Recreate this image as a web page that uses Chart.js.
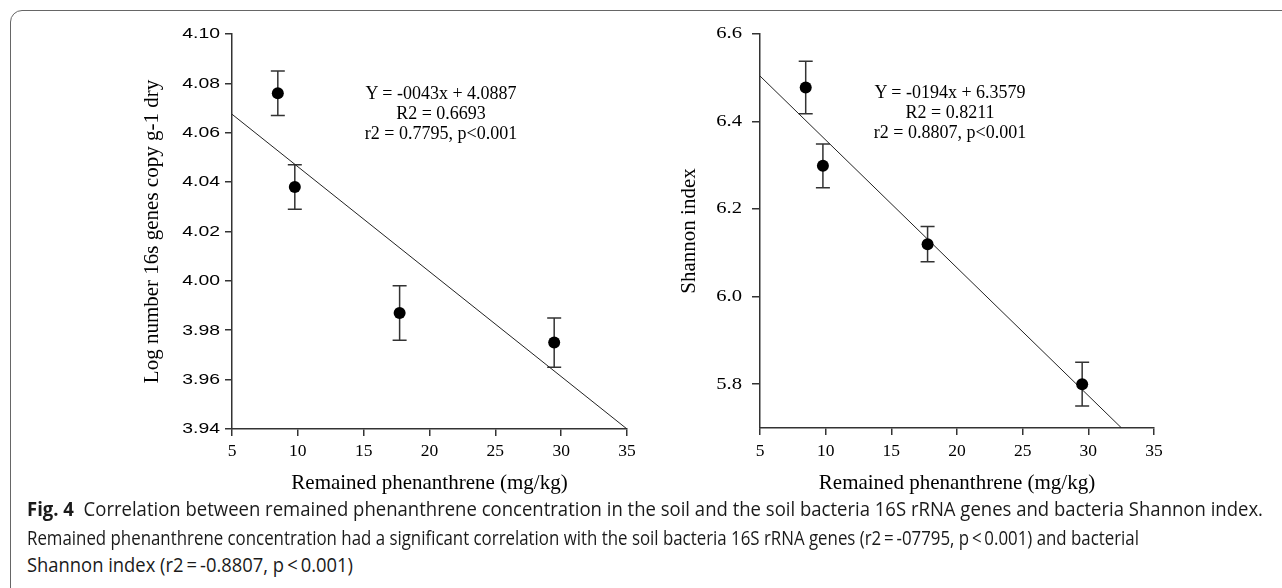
<!DOCTYPE html>
<html>
<head>
<meta charset="utf-8">
<script src="https://cdn.jsdelivr.net/npm/chart.js@4.4.1/dist/chart.umd.min.js"></script>
<style>
  body { margin: 0; background: #fff; }
  #page { position: relative; width: 1282px; height: 588px; overflow: hidden; background: #fff; }
  #frame { position: absolute; left: 10px; top: 10px; width: 1290px; height: 600px;
           border: 1.5px solid #666; border-radius: 12px; box-sizing: border-box; }
  .wrap { position: absolute; top: 0; }
  .eq { position: absolute; font-family: "Liberation Serif", "Times New Roman", serif;
        font-size: 18px; line-height: 20px; text-align: center; color: #000; white-space: nowrap;
        transform: translateX(-50%); }
  .cap { position: absolute; left: 27px; font-family: "Open Sans", sans-serif; font-size: 19.5px;
         line-height: 20px; color: #1a1a1a; white-space: nowrap; transform-origin: left center; }
  .cap b { font-weight: 700; }
</style>
</head>
<body>
<div id="page">
  <div id="frame"></div>
  <div class="wrap" style="left:0"><canvas id="left" width="640" height="500"></canvas></div>
  <div class="wrap" style="left:640px"><canvas id="right" width="642" height="500"></canvas></div>

  <div class="eq" style="left:441px; top:83px">Y = -0043x + 4.0887<br>R2 = 0.6693<br>r2 = 0.7795, p&lt;0.001</div>
  <div class="eq" style="left:950px; top:82px">Y = -0194x + 6.3579<br>R2 = 0.8211<br>r2 = 0.8807, p&lt;0.001</div>

  <div class="cap" style="top:499px"><b>Fig. 4</b>&nbsp; Correlation between remained phenanthrene concentration in the soil and the soil bacteria 16S rRNA genes and bacteria Shannon index.</div>
  <div class="cap" style="top:528px">Remained phenanthrene concentration had a significant correlation with the soil bacteria 16S rRNA genes (r2&#8201;=&#8201;-07795, p&#8201;&lt;&#8201;0.001) and bacterial</div>
  <div class="cap" style="top:555px">Shannon index (r2&#8201;=&#8201;-0.8807, p&#8201;&lt;&#8201;0.001)</div>
</div>

<script>
// x ticks shared by both panels
const xTicks = [5, 10, 15, 20, 25, 30, 35];

// left panel: log number of 16S genes
const gene16sX = [8.48, 9.77, 17.73, 29.47];
const gene16sY = [4.076, 4.038, 3.987, 3.975];
const gene16sErr = [0.009, 0.009, 0.011, 0.010];
const gene16sFitX = [5, 35];
const gene16sFitY = [4.0675, 3.940];
const gene16sTicks = [3.94, 3.96, 3.98, 4.00, 4.02, 4.04, 4.06, 4.08, 4.10];

// right panel: Shannon index
const shannonX = [8.48, 9.79, 17.76, 29.53];
const shannonY = [6.478, 6.299, 6.120, 5.800];
const shannonErr = [0.06, 0.05, 0.04, 0.05];
const shannonFitX = [5, 32.53];
const shannonFitY = [6.504, 5.70];
const shannonTicks = [5.8, 6.0, 6.2, 6.4, 6.6];

const axisColor = '#333';

// vertical error bars with caps, drawn under the points
const errorBars = {
    id: 'errorBars',
    beforeDatasetsDraw(chart, args, opts) {
        const { ctx, scales: { x, y } } = chart;
        const ds = chart.data.datasets[0];
        ctx.save();
        ctx.strokeStyle = axisColor;
        ctx.lineWidth = 1.5;
        ds.data.forEach((p, i) => {
            const px = x.getPixelForValue(p.x);
            const top = y.getPixelForValue(p.y + opts.err[i]);
            const bot = y.getPixelForValue(p.y - opts.err[i]);
            ctx.beginPath();
            ctx.moveTo(px, top); ctx.lineTo(px, bot);
            ctx.moveTo(px - 7, top); ctx.lineTo(px + 7, top);
            ctx.moveTo(px - 7, bot); ctx.lineTo(px + 7, bot);
            ctx.stroke();
        });
        ctx.restore();
    }
};

// tick labels drawn by hand: the y labels in the figure are stretched sideways
const tickLabels = {
    id: 'tickLabels',
    afterDraw(chart, args, opts) {
        const { ctx, scales: { x, y } } = chart;
        ctx.save();
        ctx.fillStyle = '#000';

        ctx.font = opts.yLabelFont;
        ctx.textAlign = 'right';
        ctx.textBaseline = 'middle';
        y.ticks.forEach(t => {
            ctx.save();
            ctx.translate(opts.yRight, y.getPixelForValue(t.value));
            ctx.scale(opts.yStretch, 1);
            ctx.fillText(t.value.toFixed(opts.yDigits), 0, 0);
            ctx.restore();
        });

        ctx.font = opts.xLabelFont;
        ctx.textAlign = 'center';
        ctx.textBaseline = 'middle';
        x.ticks.forEach(t => {
            ctx.fillText(String(t.value), x.getPixelForValue(t.value), opts.xMid);
        });
        ctx.restore();
    }
};

function makeChart(id, cfg) {
    const pts = cfg.xs.map((v, i) => ({ x: v, y: cfg.ys[i] }));
    const fit = cfg.fitX.map((v, i) => ({ x: v, y: cfg.fitY[i] }));
    return new Chart(document.getElementById(id), {
        type: 'scatter',
        data: {
            datasets: [
                { data: pts, pointRadius: 6, pointHoverRadius: 6, backgroundColor: '#000', borderWidth: 0 },
                { type: 'line', data: fit, showLine: true, pointRadius: 0, borderColor: '#222', borderWidth: 1, fill: false }
            ]
        },
        options: {
            responsive: false,
            devicePixelRatio: 1,
            animation: false,
            layout: { padding: cfg.padding },
            plugins: {
                legend: { display: false },
                tooltip: { enabled: false },
                errorBars: { err: cfg.err },
                tickLabels: cfg.labels
            },
            scales: {
                x: {
                    type: 'linear', min: 5, max: 35,
                    afterBuildTicks: s => { s.ticks = xTicks.map(v => ({ value: v })); },
                    afterFit: s => { s.height = cfg.xHeight; },
                    ticks: { display: false },
                    grid: { drawOnChartArea: false, drawTicks: true, tickLength: 7, color: axisColor, lineWidth: 1.5 },
                    border: { display: true, color: axisColor, width: 1.5 },
                    title: { display: true, text: 'Remained phenanthrene (mg/kg)', color: '#000',
                             font: { family: 'Liberation Serif', size: 21 }, padding: { bottom: 4 } }
                },
                y: {
                    type: 'linear', min: cfg.yMin, max: cfg.yMax,
                    afterBuildTicks: s => { s.ticks = cfg.yTicks.map(v => ({ value: v })); },
                    afterFit: s => { s.width = cfg.yWidth; },
                    ticks: { display: false },
                    grid: { drawOnChartArea: false, drawTicks: true, tickLength: cfg.yTickLen, color: axisColor, lineWidth: 1.5 },
                    border: { display: true, color: axisColor, width: 1.5 },
                    title: { display: true, text: cfg.yTitle, color: '#000',
                             font: { family: 'Liberation Serif', size: 21 }, padding: { top: cfg.yTitlePad } }
                }
            }
        },
        plugins: [errorBars, tickLabels]
    });
}

makeChart('left', {
    xs: gene16sX, ys: gene16sY, err: gene16sErr, fitX: gene16sFitX, fitY: gene16sFitY,
    yTicks: gene16sTicks, yMin: 3.94, yMax: 4.10,
    yTitle: 'Log number 16s genes copy g-1 dry',
    padding: { left: 0, top: 34, right: 13, bottom: 0 },
    yWidth: 232, xHeight: 71, yTickLen: 7, yTitlePad: 140,
    labels: { yLabelFont: '15.5px "Liberation Sans", Arial, sans-serif', yRight: 220, yStretch: 1.25, yDigits: 2,
              xLabelFont: '17.5px "Liberation Serif", "Times New Roman", serif', xMid: 451 }
});

makeChart('right', {
    xs: shannonX, ys: shannonY, err: shannonErr, fitX: shannonFitX, fitY: shannonFitY,
    yTicks: shannonTicks, yMin: 5.7, yMax: 6.6,
    yTitle: 'Shannon index',
    padding: { left: 0, top: 34, right: 128, bottom: 0 },
    yWidth: 120, xHeight: 72, yTickLen: 8, yTitlePad: 37,
    labels: { yLabelFont: '16.5px "Liberation Serif", "Times New Roman", serif', yRight: 102, yStretch: 1.25, yDigits: 1,
              xLabelFont: '17.5px "Liberation Serif", "Times New Roman", serif', xMid: 451 }
});

// fit caption lines to the widths they have in the figure
const capWidths = [1236, 1112, 326];
document.querySelectorAll('.cap').forEach((el, i) => {
    const w = el.getBoundingClientRect().width;
    el.style.transform = 'scaleX(' + (capWidths[i] / w) + ')';
});
</script>
</body>
</html>
